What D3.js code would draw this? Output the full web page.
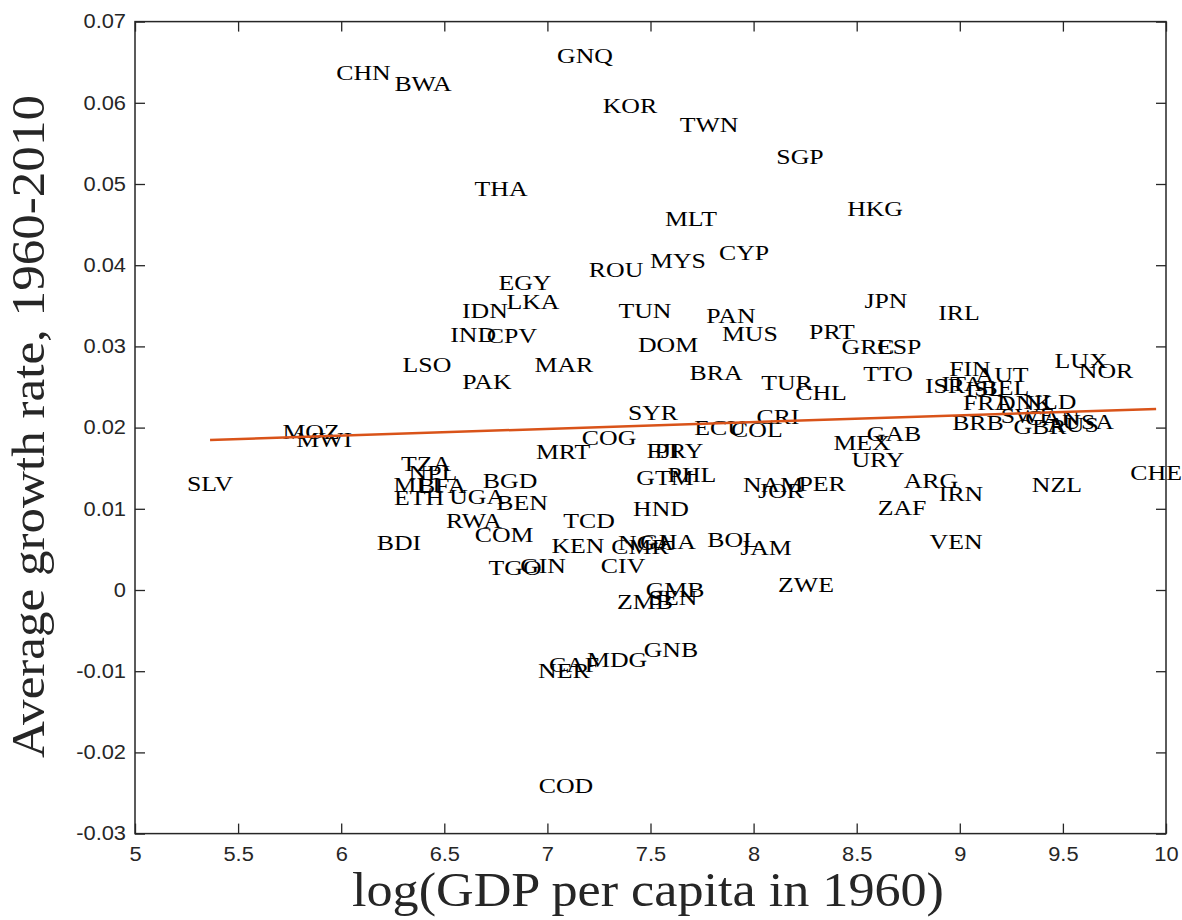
<!DOCTYPE html>
<html>
<head>
<meta charset="utf-8">
<script src="https://cdn.jsdelivr.net/npm/d3@7"></script>
<style>
  html, body { margin: 0; padding: 0; background: #fff; }
  svg { display: block; }
</style>
</head>
<body>
<svg id="chart" width="1182" height="920"></svg>
<script>
// Country codes, log GDP per capita in 1960, and average growth 1960-2010
const countries = [
  "CHN","BWA","GNQ","KOR","TWN","SGP","THA","HKG","MLT","CYP",
  "MYS","ROU","EGY","LKA","IDN","TUN","JPN","IRL","PAN","PRT",
  "MUS","IND","CPV","DOM","GRC","ESP","LSO","MAR","TTO","BRA",
  "PAK","TUR","CHL","LUX","NOR","FIN","AUT","ISR","ITA","ISL",
  "BEL","FRA","DNK","NLD","SWE","CAN","BRB","GBR","AUS","USA",
  "CHE","NZL","IRN","ARG","VEN","ZAF","URY","MEX","GAB","PER",
  "NAM","JOR","JAM","ZWE","BOL","CRI","COL","ECU","SYR","COG",
  "MRT","FJI","PRY","GTM","PHL","HND","TCD","NGA","GHA","CMR",
  "KEN","CIV","GMB","SEN","ZMB","GNB","MDG","CAF","NER","COD",
  "GIN","TGO","COM","RWA","BEN","UGA","BGD","TZA","NPL","MLI",
  "BFA","ETH","BDI","MOZ","MWI","SLV"
];
const logGdp1960 = [
  6.108,6.397,7.182,7.400,7.784,8.225,6.775,8.589,7.696,7.954,
  7.633,7.333,6.891,6.930,6.697,7.473,8.642,8.996,7.890,8.380,
  7.982,6.640,6.828,7.585,8.555,8.706,6.416,7.080,8.652,7.818,
  6.707,8.162,8.327,9.588,9.709,9.049,9.205,8.928,9.011,9.122,
  9.219,9.137,9.316,9.437,9.330,9.450,9.088,9.389,9.549,9.622,
  9.952,9.471,9.006,8.860,8.982,8.720,8.603,8.526,8.681,8.332,
  8.094,8.133,8.060,8.254,7.900,8.118,8.016,7.837,7.512,7.299,
  7.076,7.561,7.638,7.570,7.701,7.551,7.202,7.478,7.585,7.449,
  7.148,7.367,7.619,7.609,7.473,7.599,7.338,7.129,7.080,7.090,
  6.979,6.843,6.790,6.644,6.877,6.659,6.819,6.411,6.445,6.368,
  6.489,6.377,6.280,5.854,5.917,5.364
];
const growth = [
  0.0637,0.0624,0.0658,0.0596,0.0573,0.0534,0.0494,0.0469,0.0457,0.0415,
  0.0406,0.0395,0.0378,0.0355,0.0344,0.0344,0.0356,0.0342,0.0338,0.0318,
  0.0315,0.0314,0.0313,0.0302,0.0299,0.0299,0.0277,0.0277,0.0266,0.0268,
  0.0257,0.0255,0.0243,0.0282,0.0270,0.0272,0.0265,0.0252,0.0254,0.0248,
  0.0249,0.0230,0.0230,0.0232,0.0214,0.0212,0.0206,0.0201,0.0203,0.0207,
  0.0145,0.0129,0.0118,0.0135,0.0059,0.0101,0.0160,0.0181,0.0192,0.0131,
  0.0129,0.0122,0.0052,0.0007,0.0062,0.0213,0.0197,0.0200,0.0218,0.0187,
  0.0170,0.0171,0.0172,0.0138,0.0142,0.0100,0.0085,0.0058,0.0060,0.0053,
  0.0055,0.0030,0.0000,-0.0010,-0.0014,-0.0074,-0.0086,-0.0092,-0.0100,-0.0241,
  0.0030,0.0027,0.0068,0.0085,0.0107,0.0115,0.0135,0.0156,0.0144,0.0129,
  0.0128,0.0113,0.0058,0.0195,0.0185,0.0131
];

// Least-squares fit line: growth = intercept + slope * logGdp
const fitIntercept = 0.01402;
const fitSlope = 0.000832;

const xTicks = [5, 5.5, 6, 6.5, 7, 7.5, 8, 8.5, 9, 9.5, 10];
const yTicks = [-0.03, -0.02, -0.01, 0, 0.01, 0.02, 0.03, 0.04, 0.05, 0.06, 0.07];

const svg = d3.select("#chart");
const plot = { left: 135, right: 1166, top: 21.6, bottom: 833.6 };

const x = d3.scaleLinear().domain([5, 10]).range([plot.left, plot.right]);
const y = d3.scaleLinear().domain([-0.03, 0.07]).range([plot.bottom, plot.top]);

const axisColor = "#262626";
const tickLen = 10;
const tickFont = "'Liberation Sans', Arial, Helvetica, sans-serif";
const serif = "'Liberation Serif', 'Times New Roman', serif";
const labelStretch = 1.2;   // wide serif lettering for country codes
const tickStretch = 1.12;

// Country labels, centred on each data point
svg.append("g")
  .selectAll("text")
  .data(countries.map((c, i) => ({ c, gx: logGdp1960[i], gy: growth[i] })))
  .join("text")
  .attr("transform", d => `translate(${x(d.gx)},${y(d.gy)}) scale(${labelStretch},1)`)
  .attr("text-anchor", "middle")
  .attr("dominant-baseline", "central")
  .attr("font-family", serif)
  .attr("font-size", 21.5)
  .attr("fill", "#000")
  .text(d => d.c);

// Fitted regression line across the range of the data
const xMin = d3.min(logGdp1960), xMax = d3.max(logGdp1960);
svg.append("line")
  .attr("x1", x(xMin)).attr("y1", y(fitIntercept + fitSlope * xMin))
  .attr("x2", x(xMax)).attr("y2", y(fitIntercept + fitSlope * xMax))
  .attr("stroke", "#D95319")
  .attr("stroke-width", 2.5);

// Box with inward ticks on all four sides
const axes = svg.append("g");
axes.append("rect")
  .attr("x", plot.left).attr("y", plot.top)
  .attr("width", plot.right - plot.left).attr("height", plot.bottom - plot.top)
  .attr("fill", "none").attr("stroke", axisColor).attr("stroke-width", 1.5);

const bottomAxis = d3.axisBottom(x).tickValues(xTicks).tickSizeInner(-tickLen).tickSizeOuter(0)
  .tickPadding(14).tickFormat(d => String(d));
const gB = axes.append("g").attr("transform", `translate(0,${plot.bottom})`).call(bottomAxis);

const topAxis = d3.axisTop(x).tickValues(xTicks).tickSizeInner(-tickLen).tickSizeOuter(0).tickFormat("");
const gT = axes.append("g").attr("transform", `translate(0,${plot.top})`).call(topAxis);

const leftAxis = d3.axisLeft(y).tickValues(yTicks).tickSizeInner(-tickLen).tickSizeOuter(0)
  .tickPadding(9).tickFormat(d => d === 0 ? "0" : d.toFixed(2));
const gL = axes.append("g").attr("transform", `translate(${plot.left},0)`).call(leftAxis);

const rightAxis = d3.axisRight(y).tickValues(yTicks).tickSizeInner(-tickLen).tickSizeOuter(0).tickFormat("");
const gR = axes.append("g").attr("transform", `translate(${plot.right},0)`).call(rightAxis);

[gB, gT, gL, gR].forEach(g => {
  g.select(".domain").remove();
  g.selectAll(".tick line").attr("stroke", axisColor).attr("stroke-width", 1.3);
  g.selectAll(".tick text")
    .attr("fill", axisColor)
    .attr("font-family", tickFont)
    .attr("font-size", 19.5);
});
gB.selectAll(".tick text").attr("transform", `scale(${tickStretch},1)`);
gL.selectAll(".tick text")
  .attr("x", -9 / tickStretch)
  .attr("transform", `scale(${tickStretch},1)`);

// Axis titles
svg.append("text")
  .attr("x", 648)
  .attr("y", 906)
  .attr("text-anchor", "middle")
  .attr("font-family", serif)
  .attr("font-size", 48)
  .attr("textLength", 592)
  .attr("lengthAdjust", "spacingAndGlyphs")
  .attr("fill", "#262626")
  .text("log(GDP per capita in 1960)");

svg.append("text")
  .attr("transform", `translate(44,426.5) rotate(-90)`)
  .attr("text-anchor", "middle")
  .attr("font-family", serif)
  .attr("font-size", 46)
  .attr("textLength", 663)
  .attr("lengthAdjust", "spacingAndGlyphs")
  .attr("fill", "#262626")
  .text("Average growth rate, 1960-2010");
</script>
</body>
</html>
